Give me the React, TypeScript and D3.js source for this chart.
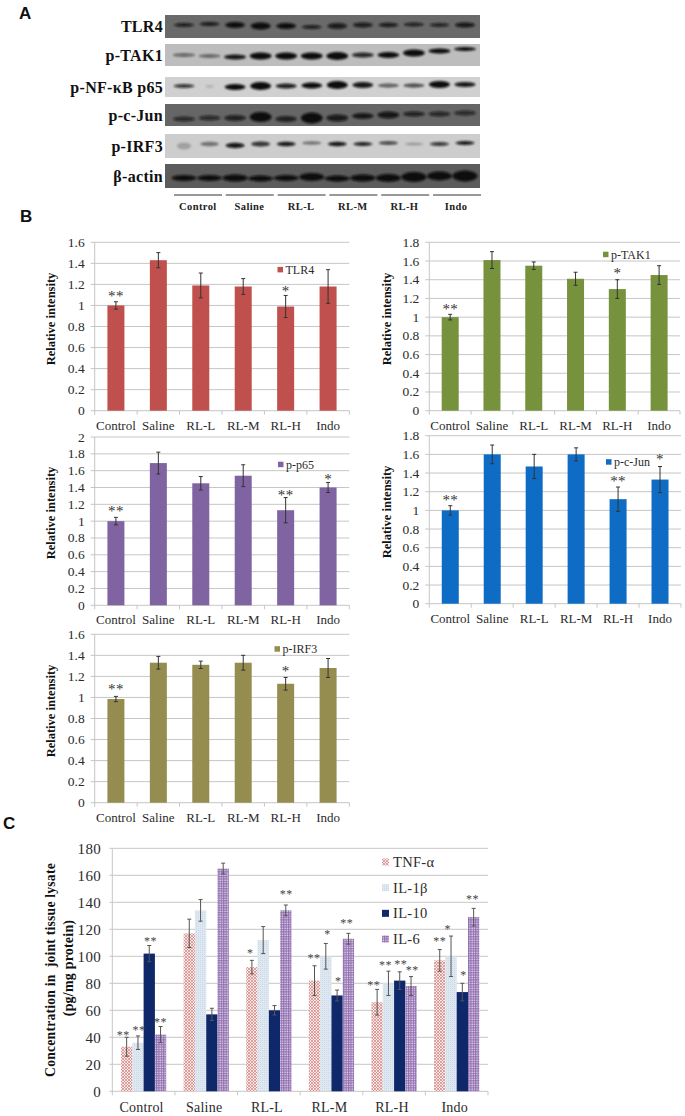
import React from "react";
import * as d3 from "d3";

const groups = ["Control", "Saline", "RL-L", "RL-M", "RL-H", "Indo"];

// --- Panel A: band densitometry
const blotNames = ["TLR4", "p-TAK1", "p-NF-κB p65", "p-c-Jun", "p-IRF3", "β-actin"];
const blotShade = ["#6a6a6a", "#bdbdbd", "#d0d0d0", "#666666", "#cdcdcd", "#5c5c5c"];
const blotTop = [15, 44, 77, 104, 134, 164];
const blotBottom = [38, 66, 97, 126, 158, 188];
const bandHalfWidth = [10, 11, 10.5, 11, 9.5, 12.5];
const strengthTLR4 = [0.85, 0.9, 1, 1, 1, 0.85, 0.85, 0.85, 0.85, 0.8, 0.8, 0.9];
const strengthTAK1 = [0.55, 0.45, 0.95, 1, 1, 1, 1, 0.85, 1, 1, 1, 1];
const strengthP65 = [0.8, 0.15, 1, 1, 0.9, 1, 1, 0.95, 0.6, 0.7, 1, 0.95];
const strengthJun = [0.7, 0.7, 0.8, 1, 0.8, 1, 0.85, 0.9, 0.9, 0.8, 0.75, 0.7];
const strengthIRF3 = [0.22, 0.45, 0.95, 0.8, 0.95, 0.45, 0.95, 0.9, 0.75, 0.25, 0.8, 0.95];
const strengthActin = [1, 1, 1, 1, 1, 1, 1, 1, 1, 1, 1, 1];
const thickTLR4 = [3, 3, 5, 6, 5, 3, 5, 4, 3.5, 3, 3, 4];
const thickTAK1 = [2.5, 3, 4, 6, 6, 6, 7, 4, 5, 6, 4, 3];
const thickP65 = [3, 2, 5, 7, 4, 5, 7, 5, 3, 3, 6, 4];
const thickJun = [4, 4, 5, 9, 5, 10, 6, 5, 6, 4, 4, 4];
const thickIRF3 = [6, 3.5, 4.5, 4, 3.5, 2.5, 3.5, 3, 2.5, 2, 3, 3];
const thickActin = [5, 5, 6, 5, 5, 7, 5, 6, 7, 9, 8, 10];
const levelTLR4 = [25, 24, 25, 26, 26, 27, 26, 25, 25, 24.5, 25, 25];
const levelTAK1 = [55, 56, 57, 56, 56, 56, 56, 55, 55, 53, 51, 49];
const levelP65 = [86, 86.5, 87, 86, 86, 85.5, 85, 85, 85.5, 85.5, 84.5, 84.5];
const levelJun = [119, 118, 118, 117, 119, 118, 118, 116, 115, 114, 114, 113];
const levelIRF3 = [146, 144, 145.5, 144, 144, 143, 144, 144, 143, 144, 144, 143];
const levelActin = [178, 178, 178, 178.5, 178, 177, 178.5, 178, 178, 177, 176, 176];
const blotStrength = [strengthTLR4, strengthTAK1, strengthP65, strengthJun, strengthIRF3, strengthActin];
const blotThick = [thickTLR4, thickTAK1, thickP65, thickJun, thickIRF3, thickActin];
const blotLevel = [levelTLR4, levelTAK1, levelP65, levelJun, levelIRF3, levelActin];

// --- Panel B values
const tlr4 = [1.0, 1.43, 1.19, 1.18, 0.99, 1.18];
const tlr4Err = [0.035, 0.072, 0.118, 0.075, 0.105, 0.16];
const tak1 = [1.0, 1.61, 1.55, 1.41, 1.3, 1.45];
const tak1Err = [0.03, 0.09, 0.04, 0.07, 0.1, 0.1];
const p65 = [1.0, 1.69, 1.45, 1.54, 1.13, 1.4];
const p65Err = [0.045, 0.13, 0.08, 0.13, 0.15, 0.06];
const cJun = [1.0, 1.6, 1.47, 1.6, 1.12, 1.33];
const cJunErr = [0.05, 0.1, 0.13, 0.07, 0.13, 0.14];
const irf3 = [0.985, 1.33, 1.31, 1.33, 1.13, 1.28];
const irf3Err = [0.025, 0.06, 0.035, 0.07, 0.06, 0.09];
const ticks16 = [0, 0.2, 0.4, 0.6, 0.8, 1, 1.2, 1.4, 1.6];
const ticks18 = [0, 0.2, 0.4, 0.6, 0.8, 1, 1.2, 1.4, 1.6, 1.8];
const ticks20 = [0, 0.2, 0.4, 0.6, 0.8, 1, 1.2, 1.4, 1.6, 1.8, 2];
const tlr4Stars: [number, string, number][] = [[0, "**", 1.106], [4, "*", 1.157]];
const tak1Stars: [number, string, number][] = [[0, "**", 1.11], [4, "*", 1.49]];
const p65Stars: [number, string, number][] = [[0, "**", 1.15], [4, "**", 1.34], [5, "*", 1.52]];
const cJunStars: [number, string, number][] = [[0, "**", 1.13], [4, "**", 1.336], [5, "*", 1.57]];
const irf3Stars: [number, string, number][] = [[0, "**", 1.1], [4, "*", 1.267]];

// --- Panel C values
const cytokines = ["TNF-α", "IL-1β", "IL-10", "IL-6"];
const tnf = [33, 117, 92, 82, 66, 97];
const tnfErr = [7, 10.5, 5, 11, 9.5, 8];
const il1 = [36, 134, 112, 100, 80, 100];
const il1Err = [5, 8, 10, 9.5, 9, 15];
const il10 = [102, 57, 60, 71, 82, 73.5];
const il10Err = [6, 4.5, 3.5, 4, 6.5, 6.5];
const il6 = [42, 165, 134, 113, 78, 129];
const il6Err = [6, 4, 4, 4, 7, 6.5];
const cytoTicks = [0, 20, 40, 60, 80, 100, 120, 140, 160, 180];
// group, series, mark, level of the mark's centre, sideways shift in bar widths
const cytoStars: [number, number, string, number, number][] = [
  [0, 0, "**", 43.5, -0.3], [0, 1, "**", 46.7, 0.1], [0, 2, "**", 112.6, 0.1], [0, 3, "**", 52.8, 0],
  [2, 0, "*", 104, -0.15], [2, 3, "**", 147.6, 0.05],
  [3, 0, "**", 100, -0.05], [3, 1, "*", 118, 0.15], [3, 2, "*", 83, 0.1], [3, 3, "**", 126, -0.15],
  [4, 0, "**", 80, -0.3], [4, 1, "**", 95, -0.25], [4, 2, "**", 96, 0.1], [4, 3, "**", 91.6, 0.1],
  [5, 0, "**", 113, 0], [5, 1, "*", 122, -0.3], [5, 2, "*", 87.4, 0.1], [5, 3, "**", 143.7, -0.1],
];

const serif = "'Liberation Serif', 'Times New Roman', serif";
const sans = "'Liberation Sans', Arial, sans-serif";
const gridCol = "#c6c6c6";
const textCol = "#2b2b2b";

type SmallProps = {
  x0: number; x1: number; yTop: number; yBase: number; max: number; ticks: number[];
  values: number[]; errs: number[]; color: string; stars: [number, string, number][];
  name: string; legX: number; legY: number; titleX: number; titleY: number;
};

function SmallChart(p: SmallProps) {
  const x = d3.scaleBand<string>().domain(groups).range([p.x0, p.x1]);
  const y = d3.scaleLinear().domain([0, p.max]).range([p.yBase, p.yTop]);
  const bw = 17;
  return (
    <g fontFamily={serif}>
      {p.ticks.map((t) => (
        <g key={t}>
          <line x1={p.x0 - 4} x2={p.x1} y1={y(t)} y2={y(t)} stroke={gridCol} strokeWidth={1} />
          <text x={p.x0 - 10} y={y(t) + 4.5} textAnchor="end" fontSize={13.5} fill={textCol}>{t}</text>
        </g>
      ))}
      <line x1={p.x0} x2={p.x0} y1={p.yTop} y2={p.yBase + 4} stroke={gridCol} />
      {groups.map((g) => (
        <line key={g} x1={x(g)! + x.bandwidth()} x2={x(g)! + x.bandwidth()} y1={p.yBase} y2={p.yBase + 4} stroke={gridCol} />
      ))}
      {groups.map((g, i) => {
        const c = x(g)! + x.bandwidth() / 2;
        return (
          <g key={g}>
            <rect x={c - bw / 2} y={y(p.values[i])} width={bw} height={p.yBase - y(p.values[i])} fill={p.color} />
            <line x1={c} x2={c} y1={y(p.values[i] + p.errs[i])} y2={y(p.values[i] - p.errs[i])} stroke="#333" strokeWidth={1} />
            <line x1={c - 2} x2={c + 2} y1={y(p.values[i] + p.errs[i])} y2={y(p.values[i] + p.errs[i])} stroke="#333" strokeWidth={1} />
            <line x1={c - 2} x2={c + 2} y1={y(p.values[i] - p.errs[i])} y2={y(p.values[i] - p.errs[i])} stroke="#333" strokeWidth={1} />
            <text x={c} y={p.yBase + 19} textAnchor="middle" fontSize={13} fill={textCol}>{g}</text>
          </g>
        );
      })}
      {p.stars.map(([i, s, lvl]) => (
        <text key={i} x={x(groups[i])! + x.bandwidth() / 2} y={y(lvl) + 7} textAnchor="middle" fontSize={15} letterSpacing={0.3} fill="#333">{s}</text>
      ))}
      <rect x={p.legX} y={p.legY - 2.8} width={5.5} height={5.5} fill={p.color} />
      <text x={p.legX + 8} y={p.legY + 4} fontSize={12} fill={textCol}>{p.name}</text>
      <text transform={`translate(${p.titleX},${p.titleY}) rotate(-90)`} textAnchor="middle" dominantBaseline="middle" fontSize={12.5} fontWeight="bold" fill="#111">Relative intensity</text>
    </g>
  );
}

function Blots() {
  const lane = d3.scalePoint<number>().domain(d3.range(12)).range([184, 465]);
  const ruleStart = d3.scalePoint<string>().domain(groups).range([174, 433]);
  const labelX = d3.scaleBand<string>().domain(groups).range([172, 482]);
  return (
    <g>
      {blotNames.map((n, r) => (
        <g key={n}>
          <rect x={165} y={blotTop[r]} width={315} height={blotBottom[r] - blotTop[r]} fill={blotShade[r]} />
          <g filter="url(#bandBlur)">
            {d3.range(12).map((l) => (
              <ellipse key={l} cx={lane(l)!} cy={blotLevel[r][l]} rx={r === 2 && l === 1 ? 4 : r === 4 && l === 0 ? 7 : bandHalfWidth[r]} ry={blotThick[r][l] / 2 + 0.4}
                fill="#0c0c0c" opacity={blotStrength[r][l]} />
            ))}
          </g>
          <text x={163} y={(blotTop[r] + blotBottom[r]) / 2 + 5.5} textAnchor="end" fontFamily={serif} fontWeight="bold" fontSize={16} letterSpacing={0.3} fill="#111">{n}</text>
        </g>
      ))}
      {groups.map((g) => (
        <g key={g}>
          <line x1={ruleStart(g)!} x2={ruleStart(g)! + 48} y1={195} y2={195} stroke="#333" strokeWidth={1} />
          <text x={labelX(g)! + labelX.bandwidth() / 2} y={210} textAnchor="middle" fontFamily={serif} fontWeight="bold" fontSize={10.5} letterSpacing={0.4} fill="#222">{g}</text>
        </g>
      ))}
    </g>
  );
}

function Cytokines() {
  const x0 = 112.3, x1 = 488, yTop = 848.3, yBase = 1091.3;
  const x = d3.scaleBand<string>().domain(groups).range([x0, x1]);
  const y = d3.scaleLinear().domain([0, 180]).range([yBase, yTop]);
  const inner = d3.scaleBand<string>().domain(cytokines).range([-22.6, 22.6]);
  const vals = [tnf, il1, il10, il6];
  const errs = [tnfErr, il1Err, il10Err, il6Err];
  const fills = ["url(#patTnf)", "url(#patIl1)", "#0f2869", "url(#patIl6)"];
  const legY = d3.scalePoint<string>().domain(cytokines).range([862, 939]);
  const barCentre = (g: number, s: number) => x(groups[g])! + x.bandwidth() / 2 + inner(cytokines[s])! + inner.bandwidth() / 2;
  return (
    <g fontFamily={serif}>
      {cytoTicks.map((t) => (
        <g key={t}>
          <line x1={x0 - 3} x2={x1} y1={y(t)} y2={y(t)} stroke={gridCol} />
          <text x={101} y={y(t) + 5.5} textAnchor="end" fontSize={15} letterSpacing={0.3} fill={textCol}>{t}</text>
        </g>
      ))}
      <line x1={x0} x2={x0} y1={yTop} y2={yBase + 4} stroke={gridCol} />
      {groups.map((g, i) => (
        <g key={g}>
          <line x1={x(g)! + x.bandwidth()} x2={x(g)! + x.bandwidth()} y1={yBase} y2={yBase + 4} stroke={gridCol} />
          <text x={x(g)! + x.bandwidth() / 2 - 2} y={yBase + 21} textAnchor="middle" fontSize={14} letterSpacing={0.2} fill={textCol}>{g}</text>
          {cytokines.map((c, s) => {
            const cx = barCentre(i, s);
            const v = vals[s][i], e = errs[s][i];
            return (
              <g key={c}>
                <rect x={cx - inner.bandwidth() / 2} y={y(v)} width={inner.bandwidth()} height={yBase - y(v)} fill={fills[s]} />
                <line x1={cx} x2={cx} y1={y(v + e)} y2={y(v - e)} stroke="#555" />
                <line x1={cx - 2} x2={cx + 2} y1={y(v + e)} y2={y(v + e)} stroke="#555" />
                <line x1={cx - 2} x2={cx + 2} y1={y(v - e)} y2={y(v - e)} stroke="#555" />
              </g>
            );
          })}
        </g>
      ))}
      {cytoStars.map(([g, s, m, lvl, dx], i) => (
        <text key={i} x={barCentre(g, s) + dx * inner.bandwidth()} y={y(lvl) + 6} textAnchor="middle" fontSize={12} letterSpacing={0.5} fill="#444">{m}</text>
      ))}
      {cytokines.map((c, s) => (
        <g key={c}>
          <rect x={382} y={legY(c)! - 3.5} width={7} height={7} fill={fills[s]} />
          <text x={393} y={legY(c)! + 5} fontSize={14.5} letterSpacing={0.3} fill={textCol}>{c}</text>
        </g>
      ))}
      <text transform="translate(52,970) rotate(-90)" textAnchor="middle" dominantBaseline="middle" fontSize={13.7} fontWeight="bold" letterSpacing={0.2} xmlSpace="preserve" fill="#111">Concentration in  joint tissue lysate</text>
      <text transform="translate(70,968) rotate(-90)" textAnchor="middle" dominantBaseline="middle" fontSize={14} fontWeight="bold" letterSpacing={0.2} fill="#111">(pg/mg protein)</text>
    </g>
  );
}

export default function App() {
  return (
    <svg width={685} height={1116} style={{ position: "absolute", left: 0, top: 0, background: "#fff" }}>
      <defs>
        <filter id="bandBlur" x="-5%" y="-30%" width="110%" height="160%">
          <feGaussianBlur stdDeviation="1.1" />
        </filter>
        <pattern id="patTnf" width="3" height="3" patternUnits="userSpaceOnUse">
          <rect width="3" height="3" fill="#f7e9e8" />
          <path d="M0 0L3 3M3 0L0 3" stroke="#d27f7c" strokeWidth="0.7" />
        </pattern>
        <pattern id="patIl1" width="2" height="2" patternUnits="userSpaceOnUse">
          <rect width="2" height="2" fill="#dfe8f0" />
          <rect width="1" height="1" fill="#cbdae6" />
        </pattern>
        <pattern id="patIl6" width="2.4" height="2.4" patternUnits="userSpaceOnUse">
          <rect width="2.4" height="2.4" fill="#e6dcee" />
          <path d="M0 0.6H2.4M0.6 0V2.4" stroke="#8c68ad" strokeWidth="1" />
        </pattern>
      </defs>
      <text x={19} y={19} fontFamily={sans} fontWeight="bold" fontSize={17} fill="#111">A</text>
      <text x={20} y={222} fontFamily={sans} fontWeight="bold" fontSize={17} fill="#111">B</text>
      <text x={3} y={829} fontFamily={sans} fontWeight="bold" fontSize={17} fill="#111">C</text>
      <Blots />
      <SmallChart x0={94.7} x1={349.3} yTop={242.3} yBase={410.7} max={1.6} ticks={ticks16} values={tlr4} errs={tlr4Err} color="#c0504d" stars={tlr4Stars} name="TLR4" legX={277.5} legY={269.7} titleX={52} titleY={319} />
      <SmallChart x0={429.3} x1={680} yTop={242.3} yBase={410.7} max={1.8} ticks={ticks18} values={tak1} errs={tak1Err} color="#76923c" stars={tak1Stars} name="p-TAK1" legX={603} legY={254.5} titleX={388} titleY={319} />
      <SmallChart x0={94.7} x1={349.3} yTop={437} yBase={605.3} max={2} ticks={ticks20} values={p65} errs={p65Err} color="#8064a2" stars={p65Stars} name="p-p65" legX={278} legY={464.5} titleX={52} titleY={513} />
      <SmallChart x0={429.3} x1={681} yTop={435.7} yBase={603.7} max={1.8} ticks={ticks18} values={cJun} errs={cJunErr} color="#0f6cc4" stars={cJunStars} name="p-c-Jun" legX={606} legY={462} titleX={388} titleY={512} />
      <SmallChart x0={94.7} x1={349.3} yTop={634.3} yBase={802.7} max={1.6} ticks={ticks16} values={irf3} errs={irf3Err} color="#958d4f" stars={irf3Stars} name="p-IRF3" legX={274.5} legY={649} titleX={52} titleY={711} />
      <Cytokines />
    </svg>
  );
}
